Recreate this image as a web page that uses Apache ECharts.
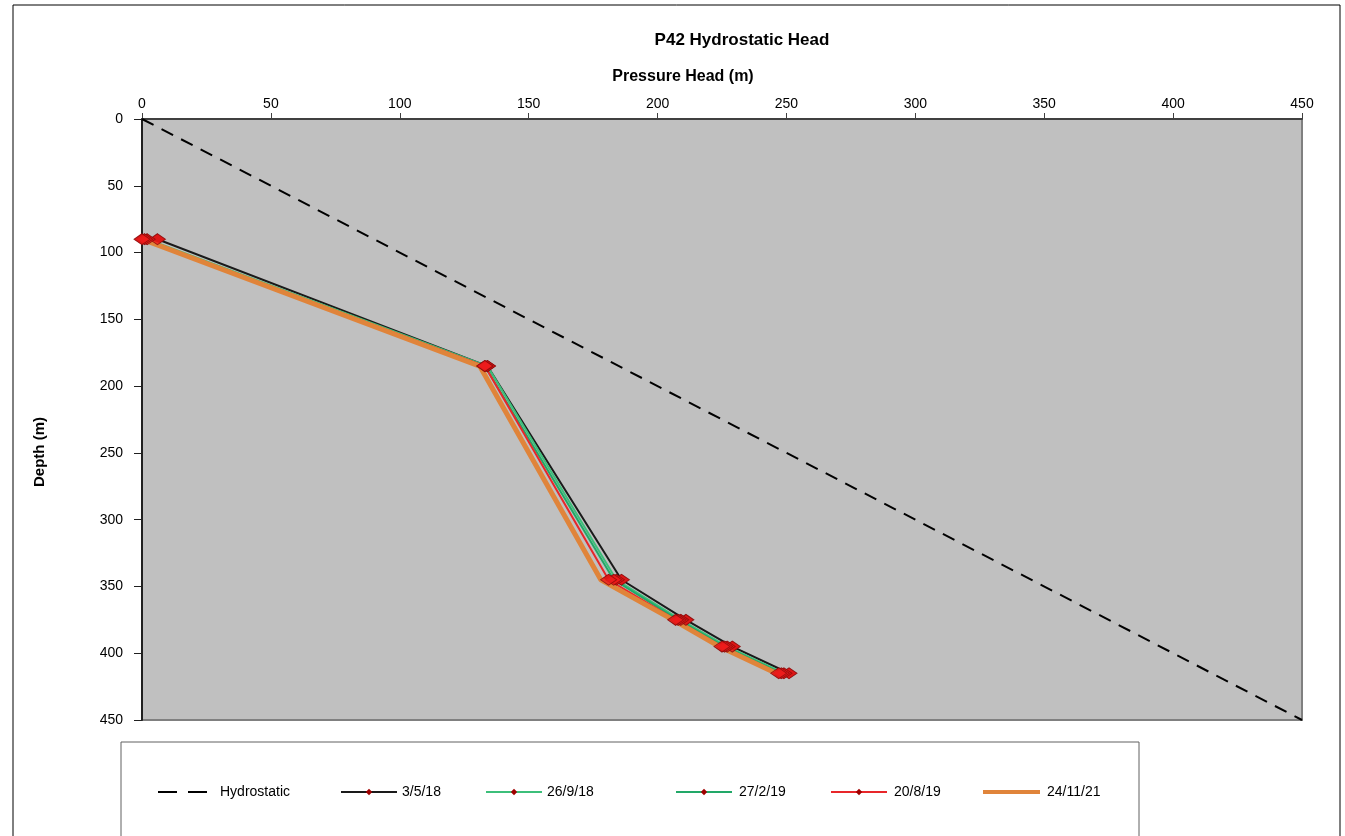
<!DOCTYPE html>
<html>
<head>
<meta charset="utf-8">
<script src="https://cdn.jsdelivr.net/npm/echarts@6/dist/echarts.min.js"></script>
<style>html,body{margin:0;padding:0;background:#fff;}#c{width:1345px;height:836px;}</style>
</head>
<body>
<div id="c"></div>
<script>
var depths = [90, 185, 345, 375, 395, 415];
var hydroX = [0, 450];
var hydroDepth = [0, 450];
var s_3_5_18 = [6, 134, 186, 211, 229, 251];
var s_26_9_18 = [2, 134, 184, 209, 227, 249];
var s_27_2_19 = [1, 133, 183, 208, 226, 248];
var s_20_8_19 = [0, 133, 181, 207, 225, 247];
var s_24_11_21 = [0, 131, 178, 206, 224, 246];
var xTicks = [0, 50, 100, 150, 200, 250, 300, 350, 400, 450];

function pairs(xs, ys) { return xs.map(function (x, i) { return [x, ys[i]]; }); }

var font = 'Liberation Sans, Arial, sans-serif';
var narrow = 'Liberation Sans Narrow, Liberation Sans, Arial, sans-serif';
var markerStyle = { color: '#ee1c1c', borderColor: '#8a0a0a', borderWidth: 1 };

var dated = [
  { name: '3/5/18', data: s_3_5_18, color: '#1a1a1a', width: 2 },
  { name: '26/9/18', data: s_26_9_18, color: '#3cbf7a', width: 2 },
  { name: '27/2/19', data: s_27_2_19, color: '#22a868', width: 2 },
  { name: '20/8/19', data: s_20_8_19, color: '#e8262a', width: 2 }
];

var series = [{
  name: 'Hydrostatic', type: 'line', data: pairs(hydroX, hydroDepth),
  symbol: 'none', lineStyle: { color: '#000', width: 2, type: [13, 9] },
  itemStyle: { color: '#000' }, z: 2
}];
dated.forEach(function (d) {
  series.push({
    name: d.name, type: 'line', data: pairs(d.data, depths),
    symbol: 'diamond', symbolSize: [14, 10], showSymbol: true,
    lineStyle: { color: d.color, width: d.width },
    itemStyle: { color: '#a00000', borderColor: '#8a0a0a' }, z: 2
  });
});
series.push({
  name: '24/11/21', type: 'line', data: pairs(s_24_11_21, depths),
  symbol: 'none', lineStyle: { color: '#e0843a', width: 5 },
  itemStyle: { color: '#e0843a' }, z: 3
});
dated.forEach(function (d) {
  series.push({
    name: d.name + ' markers', type: 'scatter', data: pairs(d.data, depths),
    symbol: 'diamond', symbolSize: [16, 11], itemStyle: markerStyle, z: 4, silent: true
  });
});

var legendPos = [
  { name: 'Hydrostatic', left: 153, icon: 'path://M0,0h19v2h-19z M30,0h19v2h-19z', w: 49, h: 2, pad: 8 },
  { name: '3/5/18', left: 335, w: 56, h: 8, pad: 0 },
  { name: '26/9/18', left: 480, w: 56, h: 8, pad: 0 },
  { name: '27/2/19', left: 670, w: 56, h: 8, pad: 2 },
  { name: '20/8/19', left: 825, w: 56, h: 8, pad: 2 },
  { name: '24/11/21', left: 978, icon: 'rect', w: 57, h: 4, pad: 2 }
];
var legends = legendPos.map(function (l) {
  var item = { name: l.name };
  if (l.icon) item.icon = l.icon;
  return {
    data: [item], left: l.left, top: 780, itemWidth: l.w, itemHeight: l.h, itemGap: 0,
    textStyle: { fontFamily: font, fontSize: 14, color: '#000', padding: [0, 0, 0, l.pad] }
  };
});

var chart = echarts.init(document.getElementById('c'));
chart.setOption({
  animation: false,
  backgroundColor: '#fff',
  legend: legends,
  grid: { left: 142, top: 119, width: 1160, height: 601, show: true, backgroundColor: '#c0c0c0', borderColor: '#808080', borderWidth: 2 },
  xAxis: {
    type: 'value', position: 'top', min: 0, max: 450, interval: 50,
    axisLine: { show: true, lineStyle: { color: '#404040', width: 2 } },
    axisTick: { show: true, length: 6, lineStyle: { color: '#404040' } },
    axisLabel: { fontFamily: font, fontSize: 14, color: '#000', margin: 8,
      formatter: function (v) { return xTicks.indexOf(v) >= 0 ? String(v) : ''; } },
    splitLine: { show: false }
  },
  yAxis: {
    type: 'value', inverse: true, min: 0, max: 450, interval: 50,
    axisLine: { show: true, lineStyle: { color: '#202020', width: 2 } },
    axisTick: { show: true, length: 8, lineStyle: { color: '#202020' } },
    axisLabel: { fontFamily: font, fontSize: 14, color: '#000', margin: 19 },
    splitLine: { show: false }
  },
  graphic: [
    { type: 'rect', silent: true, z: -10, shape: { x: 13, y: 5, width: 1327, height: 850 },
      style: { fill: 'none', stroke: '#000', lineWidth: 1 } },
    { type: 'rect', silent: true, z: -10, shape: { x: 121, y: 742, width: 1018, height: 120 },
      style: { fill: '#fff', stroke: '#606060', lineWidth: 1 } },
    { type: 'text', x: 742, y: 40, style: { text: 'P42 Hydrostatic Head', font: 'bold 17px ' + narrow, fill: '#000', textAlign: 'center', textVerticalAlign: 'middle' } },
    { type: 'text', x: 683, y: 77, style: { text: 'Pressure Head (m)', font: 'bold 16px ' + narrow, fill: '#000', textAlign: 'center', textVerticalAlign: 'middle' } },
    { type: 'text', x: 40, y: 452, rotation: Math.PI / 2, style: { text: 'Depth (m)', font: 'bold 15px ' + narrow, fill: '#000', textAlign: 'center', textVerticalAlign: 'middle' } }
  ],
  series: series
});
</script>
</body>
</html>
